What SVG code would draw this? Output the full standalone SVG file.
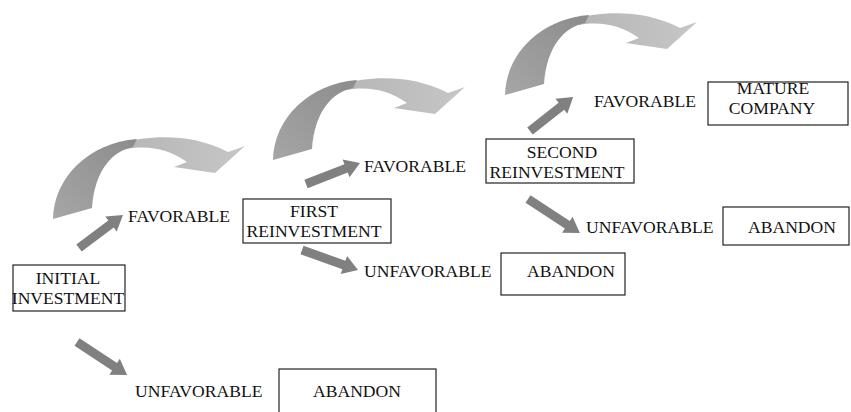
<svg xmlns="http://www.w3.org/2000/svg" width="851" height="412" viewBox="0 0 851 412">
  <style>
    .box { fill: #ffffff; stroke: #222222; stroke-width: 1.2; }
    text { font-family: 'Liberation Serif', 'DejaVu Serif', serif; font-size: 17.6px; fill: #111111; }
    .mid { text-anchor: middle; }
    .arr { fill: #808080; }
  </style>
  <defs>
    <linearGradient id="gDark" x1="0" y1="1" x2="1" y2="0">
      <stop offset="0" stop-color="#a6a6a6"/>
      <stop offset="1" stop-color="#8c8c8c"/>
    </linearGradient>
    <linearGradient id="gLight" x1="0" y1="0" x2="1" y2="0">
      <stop offset="0" stop-color="#b6b6b6"/>
      <stop offset="1" stop-color="#c6c6c6"/>
    </linearGradient>
    <g id="curve">
      <path fill="url(#gLight)" d="M70,-76 C95,-84 140,-86 175,-67 L192,-73 L162,-46 L121,-52 L134,-57 C115,-70 96,-74 74,-70 Z"/>
      <path fill="url(#gDark)" d="M0,0 C1,-42 36,-76 84,-80 L80,-72 C60,-68 42,-50 39,-11 Z"/>
    </g>
  </defs>

  <g id="connectors">
    <use href="#curve" transform="translate(53,219)"/>
    <use href="#curve" transform="translate(273,160)"/>
    <use href="#curve" transform="translate(505,95)"/>
    <polygon class="arr" transform="translate(79,248) rotate(-36.9)" points="0,-4.5 40,-4.5 40,-9.5 55,0 40,9.5 40,4.5 0,4.5"/>
    <polygon class="arr" transform="translate(77,342) rotate(33.4)" points="0,-4.5 45,-4.5 45,-9.5 60,0 45,9.5 45,4.5 0,4.5"/>
    <polygon class="arr" transform="translate(306,184) rotate(-21.3)" points="0,-4.5 43,-4.5 43,-9.5 58,0 43,9.5 43,4.5 0,4.5"/>
    <polygon class="arr" transform="translate(302,250) rotate(19.7)" points="0,-4.5 44.5,-4.5 44.5,-9.5 59.5,0 44.5,9.5 44.5,4.5 0,4.5"/>
    <polygon class="arr" transform="translate(530,131) rotate(-38.3)" points="0,-4.5 40,-4.5 40,-9.5 55,0 40,9.5 40,4.5 0,4.5"/>
    <polygon class="arr" transform="translate(528,199) rotate(33.2)" points="0,-4.5 47,-4.5 47,-9.5 62,0 47,9.5 47,4.5 0,4.5"/>
  </g>

  <g id="initial">
    <rect class="box" x="13" y="265" width="112" height="46"/>
    <text class="mid" x="68" y="283.5">INITIAL</text>
    <text class="mid" x="68" y="303.5">INVESTMENT</text>
  </g>
  <g id="fav1"><text x="128" y="222">FAVORABLE</text></g>
  <g id="unfav1"><text x="135" y="397">UNFAVORABLE</text></g>
  <g id="abandon1">
    <rect class="box" x="279" y="369" width="157" height="50"/>
    <text class="mid" x="357" y="397">ABANDON</text>
  </g>

  <g id="first">
    <rect class="box" x="243" y="199" width="148" height="44"/>
    <text class="mid" x="314" y="217">FIRST</text>
    <text class="mid" x="314" y="237">REINVESTMENT</text>
  </g>
  <g id="fav2"><text x="364" y="172">FAVORABLE</text></g>
  <g id="unfav2"><text x="364" y="277">UNFAVORABLE</text></g>
  <g id="abandon2">
    <rect class="box" x="501" y="253" width="124" height="42"/>
    <text class="mid" x="571" y="277">ABANDON</text>
  </g>

  <g id="second">
    <rect class="box" x="486" y="139" width="148" height="44"/>
    <text class="mid" x="562" y="158">SECOND</text>
    <text class="mid" x="557" y="178">REINVESTMENT</text>
  </g>
  <g id="fav3"><text x="594" y="107">FAVORABLE</text></g>
  <g id="mature">
    <rect class="box" x="708" y="82" width="140" height="43"/>
    <text class="mid" x="773" y="94">MATURE</text>
    <text class="mid" x="772" y="114">COMPANY</text>
  </g>
  <g id="unfav3"><text x="586" y="233">UNFAVORABLE</text></g>
  <g id="abandon3">
    <rect class="box" x="723" y="207" width="126" height="38"/>
    <text class="mid" x="792" y="233">ABANDON</text>
  </g>
</svg>
